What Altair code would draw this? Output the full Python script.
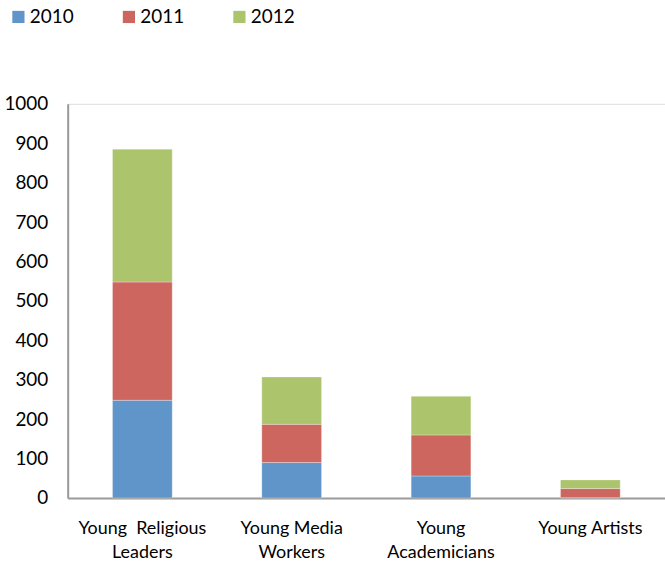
import altair as alt
import pandas as pd

categories = ["Young\u00a0\u00a0Religious\nLeaders", "Young Media\nWorkers", "Young\nAcademicians", "Young Artists"]
years = ["2010", "2011", "2012"]
v2010 = [248, 90, 56, 1]
v2011 = [300, 97, 104, 23]
v2012 = [337, 120, 98, 22]
colors = ["#5F95C9", "#CD665F", "#ACC46C"]

rows = []
for i, c in enumerate(categories):
    for j, (y, vals) in enumerate(zip(years, [v2010, v2011, v2012])):
        rows.append({"category": c, "year": y, "order": j, "value": vals[i]})
df = pd.DataFrame(rows)

FONT = "Lato"

chart = alt.Chart(df).mark_bar(stroke="#ffffff", strokeWidth=0.5, strokeOpacity=0.6).encode(
    x=alt.X("category:N", sort=categories, title=None,
            scale=alt.Scale(paddingInner=0.6, paddingOuter=0.3),
            axis=alt.Axis(labelAngle=0, labelExpr="split(datum.label, '\\n')",
                          labelFontSize=18, labelColor="#000000", labelFont=FONT,
                          labelPadding=22, labelLineHeight=24, ticks=False,
                          domainColor="#9a9a9a", domainWidth=2, labelBaseline="top")),
    y=alt.Y("value:Q", title=None,
            scale=alt.Scale(domain=[0, 1000], nice=False),
            axis=alt.Axis(values=list(range(0, 1001, 100)), grid=False, ticks=False, format="d",
                          labelFontSize=19, labelColor="#000000", labelFont=FONT,
                          labelPadding=20, domainColor="#9a9a9a", domainWidth=2)),
    color=alt.Color("year:N", sort=years,
                    scale=alt.Scale(domain=years, range=colors),
                    legend=alt.Legend(title=None, orient="none", direction="horizontal",
                                      legendX=-59, legendY=-97, symbolType="square",
                                      symbolSize=150, symbolStrokeWidth=0,
                                      labelFontSize=19, labelFont=FONT, labelColor="#000000",
                                      labelOffset=2, columnPadding=45, padding=0)),
    order=alt.Order("order:Q", sort="ascending"),
).properties(
    width=600, height=396,
    autosize=alt.AutoSizeParams(type="none"),
    padding={"left": 68, "top": 103, "right": 0, "bottom": 66},
).configure_view(stroke=None).configure(background="#ffffff")

chart.save("out.html", embed_options={"renderer": "svg", "actions": False})
